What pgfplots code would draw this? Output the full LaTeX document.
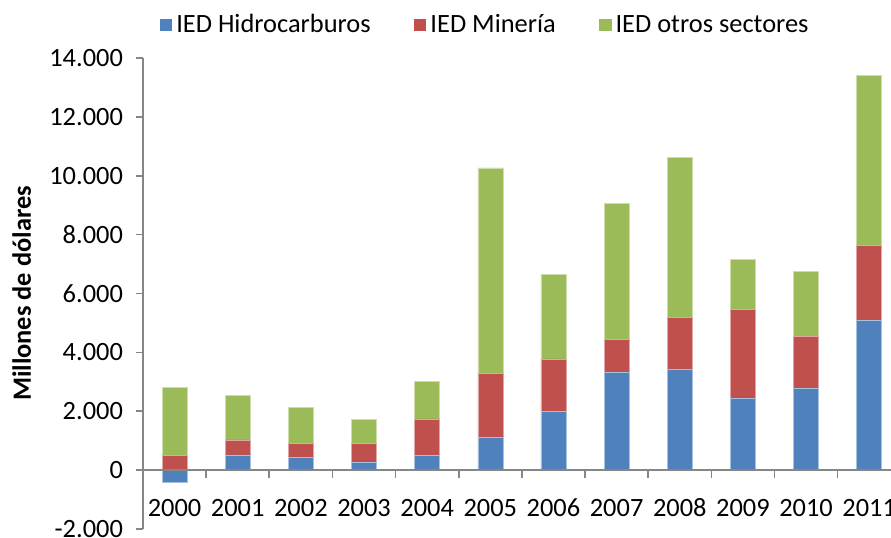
\documentclass[border=0pt]{standalone}
\usepackage{pgfplots}
\pgfplotsset{compat=1.18}
\usepackage{pgfplotstable}
\usepackage{fontspec}
\setmainfont{Carlito}
\definecolor{cH}{HTML}{4F81BD}
\definecolor{cM}{HTML}{C0504D}
\definecolor{cO}{HTML}{9BBB59}
\definecolor{axg}{HTML}{868686}
\pgfplotstableread{
x H M O
0 -400 490 2330
1 520 510 1520
2 440 470 1225
3 270 625 820
4 490 1250 1285
5 1110 2170 6990
6 2000 1780 2880
7 3325 1110 4630
8 3415 1785 5425
9 2430 3030 1690
10 2780 1760 2215
11 5085 2555 5780
}\datatable
\begin{document}
\begin{tikzpicture}[font=\fontsize{13.2}{15.8}\selectfont]
\begin{axis}[
  at={(0pt,0pt)}, anchor=south west,
  width=374pt, height=235.5pt, scale only axis,
  ybar stacked, bar width=12.5pt,
  xmin=-0.5, xmax=11.345, ymin=-2000, ymax=14000,
  enlargelimits=false,
  axis x line=middle, axis y line*=left,
  axis line style={-, draw=axg, line width=0.8pt},
  axis on top,
  xtick={0,...,11},
  xticklabels={2000,2001,2002,2003,2004,2005,2006,2007,2008,2009,2010,2011},
  minor xtick={-0.5,0.5,...,11.5},
  major x tick style={draw=none},
  minor x tick style={draw=axg, line width=0.8pt},
  minor tick length=4pt,
  ytick={-2000,0,...,14000},
  major tick length=3.5pt,
  tick align=outside,
  y tick style={draw=axg, line width=0.8pt},
  scaled y ticks=false,
  /pgf/number format/1000 sep={.},
  /pgf/number format/fixed,
  /pgf/number format/assume math mode=true,
  xticklabel style={anchor=north, yshift=-7pt, text height=9pt, text depth=0pt},
  yticklabel style={xshift=-3pt},
  ylabel={\textbf{Millones de dólares}},
  ylabel style={at={(axis description cs:-0.162,0.5)}, anchor=center},
  legend columns=3,
  legend style={at={(rel axis cs:0.4586,1.070)}, anchor=center, draw=none, fill=none,
    /tikz/every even column/.append style={column sep=19.5pt},
    nodes={inner sep=2pt}},
  legend image code/.code={\fill[#1,draw=none] (0pt,-3.2pt) rectangle (6.4pt,3.2pt);},
]
\addplot[fill=cH, draw=cH!50!white, line width=0.3pt] table[x=x,y=H]{\datatable};
\addlegendentry{IED Hidrocarburos}
\addplot[fill=cM, draw=cM!50!white, line width=0.3pt] table[x=x,y=M]{\datatable};
\addlegendentry{IED Minería}
\addplot[fill=cO, draw=cO!50!white, line width=0.3pt] table[x=x,y=O]{\datatable};
\addlegendentry{IED otros sectores}
\end{axis}
\pgfresetboundingbox
\useasboundingbox (-71.5pt,-4pt) rectangle (374pt,264.5pt);
\end{tikzpicture}
\end{document}
